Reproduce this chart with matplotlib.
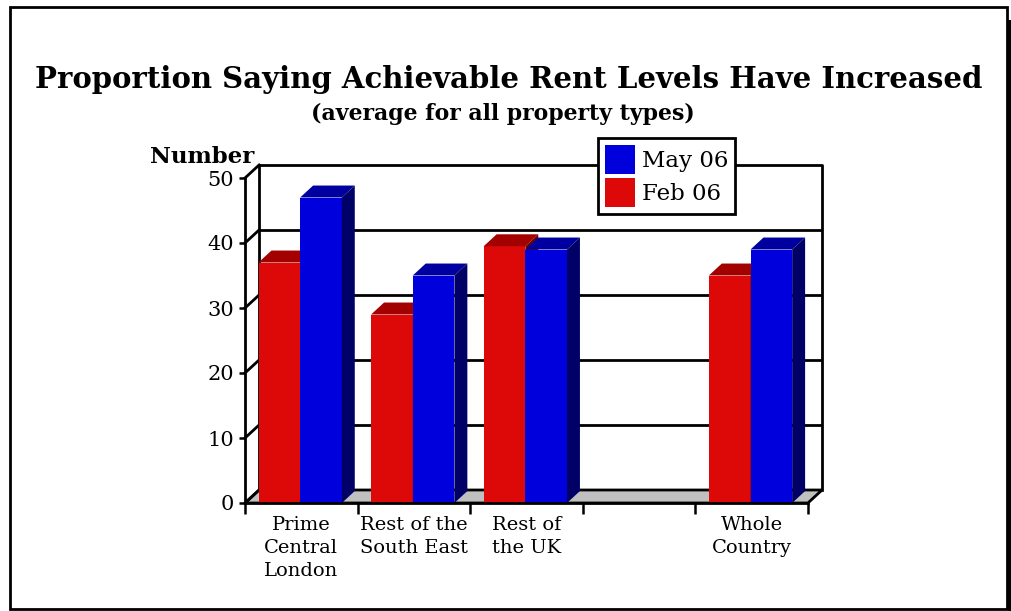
import numpy as np
import matplotlib.pyplot as plt
from matplotlib.patches import Polygon, Rectangle, Patch

categories = ["Prime\nCentral\nLondon", "Rest of the\nSouth East", "Rest of\nthe UK", "", "Whole\nCountry"]
feb06 = [37, 29, 39.5, np.nan, 35]
may06 = [47, 35, 39, np.nan, 39]
yticks = [0, 10, 20, 30, 40, 50]

plt.rcParams['font.family'] = ['DejaVu Serif']

# pseudo-3d depth, in category units (x) and value units (y)
DX, DY = 0.125, 2.0
BW = 0.37      # bar width per series
BD = 0.92      # bar depth as a share of the floor depth

red_front, red_top, red_side = '#dd0808', '#a30000', '#6a0000'
blue_front, blue_top, blue_side = '#0000dd', '#0000a0', '#000066'

fig = plt.figure(figsize=(10.12, 6.11), dpi=100)
W, H = 1012, 611
ax = fig.add_axes([245 / W, (H - 503) / H, (822 - 245) / W, (503 - 165) / H])
n = len(categories)
ax.set_xlim(0, n + DX)
ax.set_ylim(0, 50 + DY)

# floor
ax.add_patch(Polygon([(0, 0), (n, 0), (n + DX, DY), (DX, DY)], closed=True,
                     facecolor='#c0c0c0', edgecolor='black', lw=2, zorder=1))
# back wall and left wall edges
ax.plot([DX, DX, n + DX, n + DX], [DY, 50 + DY, 50 + DY, DY], color='black', lw=2,
        zorder=1, clip_on=False)
for v in yticks:
    ax.plot([0, DX], [v, v + DY], color='black', lw=2, zorder=1, clip_on=False)
    if 0 < v < 50:
        ax.plot([DX, n + DX], [v + DY, v + DY], color='black', lw=2, zorder=1)


def bar3d(x0, h, front, top, side):
    if np.isnan(h):
        return
    dx, dy = DX * BD, DY * BD
    ax.add_patch(Polygon([(x0, 0), (x0 + BW, 0), (x0 + BW, h), (x0, h)],
                         facecolor=front, edgecolor='none', zorder=2))
    ax.add_patch(Polygon([(x0, h), (x0 + BW, h), (x0 + BW + dx, h + dy), (x0 + dx, h + dy)],
                         facecolor=top, edgecolor='none', zorder=2))
    ax.add_patch(Polygon([(x0 + BW, 0), (x0 + BW + dx, dy), (x0 + BW + dx, h + dy), (x0 + BW, h)],
                         facecolor=side, edgecolor='none', zorder=2))


for i in range(n):
    c = i + 0.49
    bar3d(c - BW, feb06[i], red_front, red_top, red_side)
    bar3d(c, may06[i], blue_front, blue_top, blue_side)

for s in ['top', 'right']:
    ax.spines[s].set_visible(False)
ax.spines['left'].set_bounds(0, 50)
ax.spines['bottom'].set_bounds(0, n)
for s in ['left', 'bottom']:
    ax.spines[s].set_linewidth(2)
    ax.spines[s].set_zorder(3)

ax.set_yticks(yticks)
ax.set_yticklabels([str(v) for v in yticks], fontsize=15)
ax.tick_params(axis='y', length=4, width=1.8, pad=4)
ax.set_xticks(np.arange(n + 1))
ax.set_xticklabels([])
ax.tick_params(axis='x', which='major', length=8, width=1.8)
ax.set_xticks(np.arange(n) + 0.5, minor=True)
ax.set_xticklabels(categories, minor=True, fontsize=14, linespacing=1.36)
ax.tick_params(axis='x', which='minor', length=0, pad=9)

fig.text(509 / W, 1 - 88 / H, 'Proportion Saying Achievable Rent Levels Have Increased',
         ha='center', va='baseline', fontsize=21, fontweight='bold')
fig.text(503 / W, 1 - 120 / H, '(average for all property types)',
         ha='center', va='baseline', fontsize=15.8, fontweight='bold')
fig.text(150 / W, 1 - 163 / H, 'Number', ha='left', va='baseline',
         fontsize=16.5, fontweight='bold')

handles = [Patch(facecolor=blue_front, edgecolor='none', label='May 06'),
           Patch(facecolor=red_front, edgecolor='none', label='Feb 06')]
leg = fig.legend(handles=handles, loc='upper left', bbox_to_anchor=(598 / W, 1 - 138 / H),
                 fontsize=16.5, frameon=True, fancybox=False, edgecolor='black',
                 framealpha=1, handlelength=1.3, handleheight=1.55, handletextpad=0.3,
                 labelspacing=0.2, borderpad=0.3, borderaxespad=0)
leg.get_frame().set_linewidth(2)

# outer frame with a shadow strip on the right
fig.add_artist(Rectangle((10 / W, 2 / H), 997 / W, 602 / H, transform=fig.transFigure,
                         fill=False, edgecolor='black', lw=2))
fig.add_artist(Rectangle((1008 / W, 0), 4 / W, 591 / H, transform=fig.transFigure,
                         facecolor='black', edgecolor='none'))

fig.savefig('out.png', dpi=100)
